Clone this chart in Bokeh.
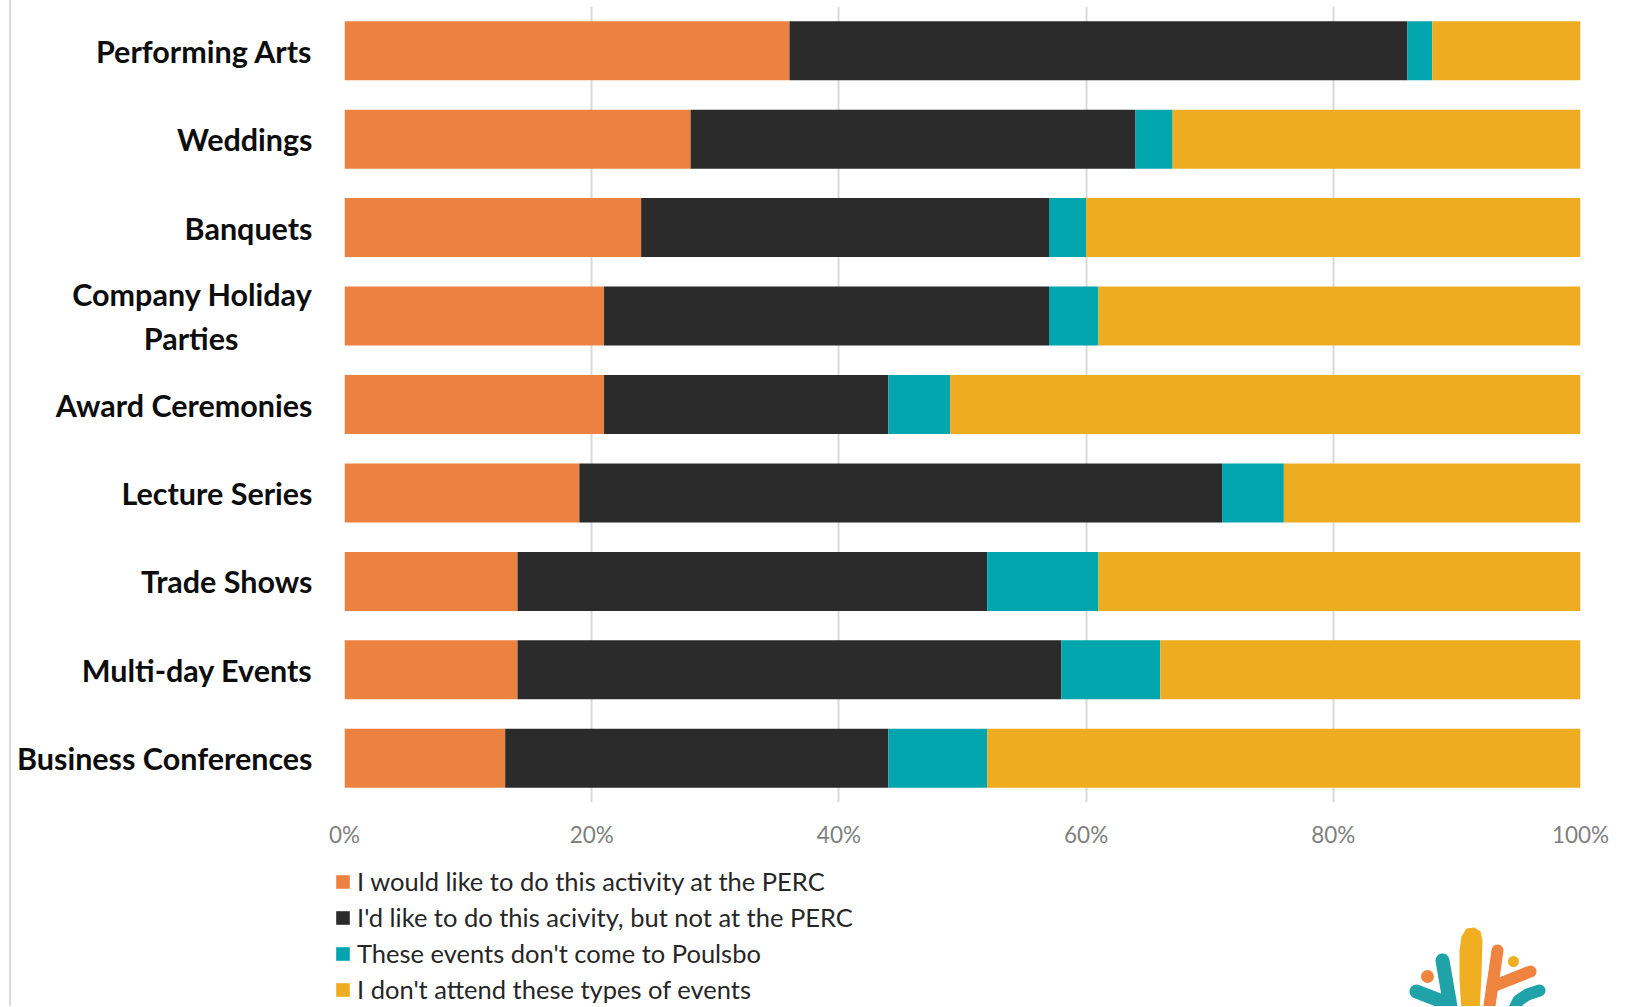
from bokeh.plotting import figure
from bokeh.models import (FactorRange, Range1d, FixedTicker, PrintfTickFormatter,
                          Legend, LegendItem, ColumnDataSource, Div)
from bokeh.layouts import column, row
from bokeh.embed import file_html
from bokeh.resources import INLINE

# ---------------- data ----------------
NB = "\u00a0"
categories = ["Performing Arts", "Weddings", "Banquets",
              "Company Holiday\nParties" + NB * 10,
              "Award Ceremonies", "Lecture Series", "Trade Shows", "Multi-day Events",
              "Business Conferences"]
at_perc = [36, 28, 24, 21, 21, 19, 14, 14, 13]
not_at_perc = [50, 36, 33, 36, 23, 52, 38, 44, 31]
not_in_poulsbo = [2, 3, 3, 4, 5, 5, 9, 8, 8]
dont_attend = [12, 33, 40, 39, 51, 24, 39, 34, 48]
series_names = ["I would like to do this activity at the PERC",
                "I'd like to do this acivity, but not at the PERC",
                "These events don't come to Poulsbo",
                "I don't attend these types of events"]
x_ticks = [0, 20, 40, 60, 80, 100]

colors = ["#ED8240", "#2B2B2B", "#00A5AD", "#EEAC21"]
keys = ["s0", "s1", "s2", "s3"]

src = ColumnDataSource(dict(cat=categories, s0=at_perc, s1=not_at_perc,
                            s2=not_in_poulsbo, s3=dont_attend))

FIG_W = 1620
BL, BR = 333, 51
p = figure(width=FIG_W, height=858, output_backend="svg", toolbar_location=None,
           y_range=FactorRange(factors=list(reversed(categories)), range_padding=0),
           x_range=Range1d(0, 100),
           min_border_left=BL, min_border_right=BR, min_border_top=6, min_border_bottom=56)
p.frame_align = False
p.hbar_stack(keys, y="cat", height=0.667, color=colors, source=src, line_width=0)

p.outline_line_color = None
p.ygrid.grid_line_color = None
p.xgrid.ticker = FixedTicker(ticks=x_ticks)
p.xgrid.grid_line_color = "#D9D9D9"
p.xgrid.grid_line_width = 2

xa = p.xaxis[0]
xa.ticker = FixedTicker(ticks=x_ticks)
xa.formatter = PrintfTickFormatter(format="%d%%")
xa.axis_line_color = None
xa.major_tick_line_color = None
xa.minor_tick_line_color = None
xa.major_label_text_font = "Lato"
xa.major_label_text_font_size = "22.5px"
xa.major_label_text_color = "#7F7F7F"
xa.major_label_standoff = 12

ya = p.yaxis[0]
ya.axis_line_color = None
ya.major_tick_line_color = None
ya.minor_tick_line_color = None
ya.major_label_text_font = "Lato"
ya.major_label_text_font_style = "bold"
ya.major_label_text_font_size = "30.5px"
ya.major_label_text_color = "#0D0D0D"
ya.major_label_standoff = 26

# ---------------- bottom panel: legend + logo ----------------
BH = 148
B_TOP = 5
B_LEFT = 323
X0 = 11 + B_LEFT                  # page x of bottom frame left
XW = FIG_W - B_LEFT               # frame width
Y0 = 858 + B_TOP                  # page y of bottom frame top
b = figure(width=FIG_W, height=BH, output_backend="svg", toolbar_location=None,
           x_range=Range1d(X0, X0 + XW),
           y_range=Range1d(Y0 + BH - B_TOP, Y0),
           min_border_left=B_LEFT, min_border_top=B_TOP, min_border_right=0,
           min_border_bottom=0)
b.frame_align = False
b.axis.visible = False
b.grid.visible = False
b.outline_line_color = None

nan = float("nan")
items = []
for name, c in zip(series_names, colors):
    r = b.quad(left=[nan], right=[nan], top=[nan], bottom=[nan], fill_color=c,
               line_color=None)
    items.append(LegendItem(label=name, renderers=[r]))
leg = Legend(items=items, location=(0, -1), orientation="vertical",
             glyph_width=17, glyph_height=17, label_height=36, spacing=0,
             label_standoff=6, padding=0, margin=0, border_line_color=None,
             background_fill_alpha=0, label_text_font="Lato",
             label_text_font_size="25.5px", label_text_color="#262626")
b.add_layout(leg, "center")

# decorative logo (partially visible at the bottom edge), page coordinates
teal, yellow, orange = "#1FA3A8", "#F0AE22", "#EE8440"
b.patch([1459, 1461, 1466, 1474, 1480, 1482, 1481, 1479, 1461, 1459],
        [950, 936, 928, 927, 931, 940, 975, 1012, 1012, 980],
        fill_color=yellow, line_color=None)
b.multi_line([[1442, 1451], [1416, 1447]], [[960, 1012], [991, 1003]],
             line_color=teal, line_width=14, line_cap="round")
b.multi_line([[1497, 1488], [1492, 1530]], [[950, 1012], [986, 971]],
             line_color=orange, line_width=12, line_cap="round")
b.line([1539, 1527, 1518, 1512], [990, 994, 1000, 1012],
       line_color=teal, line_width=12, line_cap="round")
b.scatter([1427], [976], size=13, color=orange, line_color=None)
b.scatter([1513], [961], size=11, color=yellow, line_color=None)

edge = Div(width=2, height=1006, margin=(0, 0, 0, 9),
           styles={"background-color": "#D9D9D9"})
layout = row(edge, column(p, b, spacing=0), spacing=0)

open("out.html", "w").write(file_html(layout, INLINE))
